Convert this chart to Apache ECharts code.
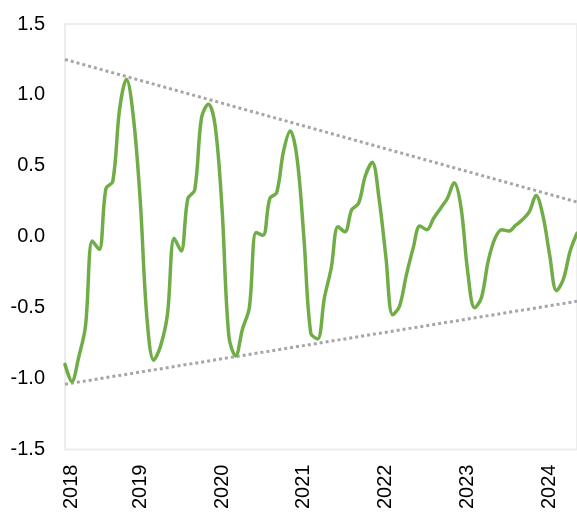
<!DOCTYPE html>
<html>
<head>
<meta charset="utf-8">
<script src="https://cdn.jsdelivr.net/npm/echarts@6/dist/echarts.min.js"></script>
<style>
  html, body { margin: 0; padding: 0; background: #fff; }
  #chart { width: 577px; height: 512px; }
</style>
</head>
<body>
<div id="chart"></div>
<script>
// Monthly periods, Feb 2018 – May 2024
const months = [
  '2018-02','2018-03','2018-04','2018-05','2018-06','2018-07','2018-08','2018-09','2018-10','2018-11','2018-12',
  '2019-01','2019-02','2019-03','2019-04','2019-05','2019-06','2019-07','2019-08','2019-09','2019-10','2019-11','2019-12',
  '2020-01','2020-02','2020-03','2020-04','2020-05','2020-06','2020-07','2020-08','2020-09','2020-10','2020-11','2020-12',
  '2021-01','2021-02','2021-03','2021-04','2021-05','2021-06','2021-07','2021-08','2021-09','2021-10','2021-11','2021-12',
  '2022-01','2022-02','2022-03','2022-04','2022-05','2022-06','2022-07','2022-08','2022-09','2022-10','2022-11','2022-12',
  '2023-01','2023-02','2023-03','2023-04','2023-05','2023-06','2023-07','2023-08','2023-09','2023-10','2023-11','2023-12',
  '2024-01','2024-02','2024-03','2024-04','2024-05'
];

// Seasonal index values
const seasonal = [
  -0.90, -1.02, -0.85, -0.63, -0.03, -0.09, 0.34, 0.39, 0.90, 1.11, 0.85,
  0.27, -0.57, -0.87, -0.77, -0.55, -0.01, -0.10, 0.27, 0.33, 0.84, 0.935, 0.78,
  0.20, -0.70, -0.84, -0.65, -0.50, 0.03, 0.01, 0.27, 0.31, 0.60, 0.745, 0.55,
  -0.01, -0.68, -0.72, -0.43, -0.22, 0.07, 0.035, 0.19, 0.235, 0.43, 0.525, 0.27,
  -0.14, -0.55, -0.49, -0.27, -0.08, 0.075, 0.05, 0.13, 0.20, 0.27, 0.38, 0.21,
  -0.25, -0.50, -0.43, -0.17, -0.01, 0.05, 0.04, 0.08, 0.12, 0.175, 0.29, 0.15,
  -0.13, -0.38, -0.30, -0.10, 0.025
];

// Envelope trend lines: values at the first and last period
const upperTrend = [1.25, 0.245];
const lowerTrend = [-1.04, -0.455];

// Y axis range and step
const yMin = -1.5, yMax = 1.5, yStep = 0.5;

const first = months[0], last = months[months.length - 1];

const chart = echarts.init(document.getElementById('chart'), null, { renderer: 'canvas' });

const trendStyle = {
  type: 'line',
  symbol: 'none',
  silent: true,
  lineStyle: { color: '#A6A6A6', width: 3, type: [3, 3], cap: 'butt' },
  z: 1
};

const labelFont = {
  color: '#000',
  fontFamily: 'Liberation Sans, Arial, sans-serif',
  fontSize: 20
};

chart.setOption({
  animation: false,
  backgroundColor: '#ffffff',
  grid: {
    left: 65, right: 0, top: 24, bottom: 59,
    show: true, borderColor: '#EDEDED', borderWidth: 2
  },
  xAxis: {
    type: 'category',
    data: months,
    boundaryGap: false,
    axisLine: { show: false },
    axisTick: { show: false },
    splitLine: { show: false },
    axisLabel: Object.assign({
      rotate: 90,
      margin: 15,
      interval: (i, v) => i === 0 || v.slice(5) === '01',
      // the opening year label sits a little inside the plot edge
      formatter: (v, i) => i === 0 ? '{first|' + v.slice(0, 4) + '}' : v.slice(0, 4),
      rich: {
        first: Object.assign({ padding: [12, 0, 0, 0] }, labelFont)
      }
    }, labelFont)
  },
  yAxis: {
    type: 'value',
    min: yMin, max: yMax, interval: yStep,
    axisLine: { show: false },
    axisTick: { show: false },
    splitLine: { show: false },
    axisLabel: Object.assign({
      margin: 20,
      formatter: v => v.toFixed(1)
    }, labelFont)
  },
  series: [
    Object.assign({ data: [[first, upperTrend[0]], [last, upperTrend[1]]] }, trendStyle),
    Object.assign({ data: [[first, lowerTrend[0]], [last, lowerTrend[1]]] }, trendStyle),
    {
      type: 'line',
      data: seasonal,
      smooth: 0.35,
      symbol: 'none',
      lineStyle: { color: '#70AD47', width: 3.5, cap: 'round', join: 'round' },
      z: 3
    }
  ]
});
</script>
</body>
</html>
